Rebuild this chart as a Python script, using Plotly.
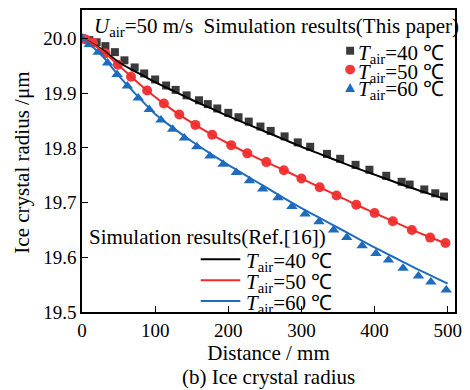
import plotly.graph_objects as go

# Reference model (Ref.[16]) curves, sampled every 25 mm
ref_x = [0, 25, 50, 75, 100, 125, 150, 175, 200, 225, 250, 275, 300, 325, 350, 375, 400, 425, 450, 475, 500]
ref_40 = [20.000, 19.982, 19.957, 19.938, 19.920, 19.904, 19.888, 19.873, 19.858, 19.844, 19.830,
          19.816, 19.802, 19.789, 19.776, 19.763, 19.751, 19.739, 19.727, 19.716, 19.705]
ref_50 = [20.000, 19.980, 19.951, 19.921, 19.893, 19.868, 19.846, 19.826, 19.808, 19.791, 19.775,
          19.760, 19.744, 19.728, 19.712, 19.696, 19.681, 19.666, 19.651, 19.637, 19.624]
ref_60 = [20.000, 19.972, 19.932, 19.896, 19.862, 19.836, 19.812, 19.790, 19.769, 19.749, 19.729,
          19.709, 19.690, 19.672, 19.654, 19.636, 19.618, 19.601, 19.584, 19.568, 19.552]

# This paper's simulation results
sim40_x = [0, 10, 20, 32, 45, 58, 72, 85, 100, 115, 128, 143, 160, 172, 185, 200, 214, 228, 244,
           258, 277, 295, 312, 335, 353, 374, 393, 416, 437, 448, 468, 483, 495]
sim40_y = [20.000, 19.997, 19.993, 19.986, 19.975, 19.960, 19.947, 19.936, 19.925, 19.914, 19.906,
           19.896, 19.887, 19.880, 19.872, 19.864, 19.856, 19.848, 19.839, 19.831, 19.821, 19.810,
           19.802, 19.789, 19.780, 19.769, 19.760, 19.749, 19.738, 19.733, 19.724, 19.717, 19.711]

sim50_x = [0, 5, 15, 32, 49, 67, 89, 112, 133, 155, 178, 204, 226, 252, 276, 300, 325, 348, 375,
           400, 425, 451, 476, 497]
sim50_y = [20.000, 19.998, 19.992, 19.973, 19.952, 19.930, 19.905, 19.881, 19.861, 19.842, 19.824,
           19.805, 19.790, 19.774, 19.759, 19.744, 19.728, 19.713, 19.696, 19.681, 19.666, 19.650,
           19.636, 19.626]

sim60_x = [0, 10, 22, 35, 48, 62, 77, 92, 108, 124, 140, 157, 175, 193, 211, 229, 247, 268, 287,
           305, 324, 344, 362, 383, 402, 419, 439, 460, 477, 498]
sim60_y = [20.000, 19.989, 19.975, 19.955, 19.934, 19.913, 19.891, 19.870, 19.851, 19.834, 19.818,
           19.802, 19.785, 19.770, 19.755, 19.740, 19.725, 19.709, 19.693, 19.679, 19.665, 19.650,
           19.636, 19.621, 19.607, 19.595, 19.580, 19.566, 19.555, 19.540]

temps = [40, 50, 60]
x_ticks = [0, 100, 200, 300, 400, 500]
y_ticks = [19.5, 19.6, 19.7, 19.8, 19.9, 20.0]

FONT = "Liberation Serif"
C_BLACK = "#000000"
C_GRAY = "#3a3a3a"
C_RED = "#f22a2a"
C_RED_M = "#f03a3a"
C_BLUE = "#1f6cbf"


def tair(temp):
    return f"<i>T</i><sub>air</sub>={temp} ℃"


fig = go.Figure()

# markers: this paper
fig.add_trace(go.Scatter(x=sim40_x, y=sim40_y, mode="markers", name=tair(40), showlegend=False,
                         marker=dict(symbol="square", size=8, color=C_GRAY)))
fig.add_trace(go.Scatter(x=sim50_x, y=sim50_y, mode="markers", name=tair(50), showlegend=False,
                         marker=dict(symbol="circle", size=10, color=C_RED_M)))
fig.add_trace(go.Scatter(x=sim60_x, y=sim60_y, mode="markers", name=tair(60), showlegend=False,
                         marker=dict(symbol="triangle-up", size=10, color=C_BLUE)))

# lines: Ref.[16]
fig.add_trace(go.Scatter(x=ref_x, y=ref_40, mode="lines", name=tair(40), showlegend=False,
                         line=dict(color=C_BLACK, width=2, shape="spline")))
fig.add_trace(go.Scatter(x=ref_x, y=ref_50, mode="lines", name=tair(50), showlegend=False,
                         line=dict(color=C_RED, width=2, shape="spline")))
fig.add_trace(go.Scatter(x=ref_x, y=ref_60, mode="lines", name=tair(60), showlegend=False,
                         line=dict(color=C_BLUE, width=2, shape="spline")))

axis_common = dict(showline=True, linecolor="black", linewidth=1.5, mirror=True,
                   ticks="inside", ticklen=6, tickwidth=1.2, tickcolor="black",
                   showgrid=False, zeroline=False,
                   tickfont=dict(family=FONT, size=19, color="black"))

fig.update_xaxes(range=[0, 510], tickvals=x_ticks, ticktext=[str(v) for v in x_ticks],
                 title=dict(text="Distance / mm", font=dict(family=FONT, size=21, color="black"),
                            standoff=0),
                 **axis_common)
fig.update_yaxes(range=[19.5, 20.052], tickvals=y_ticks, ticktext=[f"{v:.1f}" for v in y_ticks],
                 **axis_common)

txt_font = dict(family=FONT, size=21, color="black")


def paper_x(px):
    return (px - 82) / 377


def paper_y(py):
    return (312 - py) / 304


annotations = [
    dict(text="Ice crystal radius /μm", textangle=-90,
         x=paper_x(21), y=paper_y(162), xanchor="center", yanchor="middle"),
    dict(text="<i>U</i><sub>air</sub>=50 m/s\u00a0\u00a0Simulation results(This paper)",
         x=paper_x(92), y=paper_y(25), xanchor="left", yanchor="middle"),
    dict(text="Simulation results(Ref.[16])",
         x=paper_x(87), y=paper_y(237), xanchor="left", yanchor="middle"),
    dict(text="(b) Ice crystal radius",
         x=0.5, y=paper_y(377), xanchor="center", yanchor="middle"),
]

shapes = []

# key for the marker series (this paper)
mark_rows = [49, 68, 86]
for t, row in zip(temps, mark_rows):
    annotations.append(dict(text=tair(t), x=paper_x(359), y=paper_y(row + 3),
                            xanchor="left", yanchor="middle"))
sq = mark_rows[0]
shapes.append(dict(type="rect", x0=paper_x(349), x1=paper_x(357), y0=paper_y(sq + 4), y1=paper_y(sq - 4),
                   fillcolor=C_GRAY, line=dict(width=0)))
ci = mark_rows[1]
shapes.append(dict(type="circle", x0=paper_x(348), x1=paper_x(358), y0=paper_y(ci + 5), y1=paper_y(ci - 5),
                   fillcolor=C_RED_M, line=dict(width=0)))
tr = mark_rows[2]
shapes.append(dict(type="path",
                   path=(f"M {paper_x(353)} {paper_y(tr - 4.5)} L {paper_x(358)} {paper_y(tr + 4.5)} "
                         f"L {paper_x(348)} {paper_y(tr + 4.5)} Z"),
                   fillcolor=C_BLUE, line=dict(width=0)))

# key for the reference curves
line_rows = [259, 280, 301]
line_colors = [C_BLACK, C_RED, C_BLUE]
for t, row, col in zip(temps, line_rows, line_colors):
    shapes.append(dict(type="line", x0=paper_x(202), x1=paper_x(242), y0=paper_y(row), y1=paper_y(row),
                       line=dict(color=col, width=2)))
    annotations.append(dict(text=tair(t), x=paper_x(246), y=paper_y(row + 3),
                            xanchor="left", yanchor="middle"))

for a in annotations:
    a.update(xref="paper", yref="paper", showarrow=False, font=txt_font)
for s in shapes:
    s.update(xref="paper", yref="paper")

fig.update_layout(
    width=470, height=390,
    margin=dict(l=82, r=11, t=8, b=78),
    paper_bgcolor="white", plot_bgcolor="white",
    font=dict(family=FONT, color="black"),
    showlegend=False,
    annotations=annotations,
    shapes=shapes,
)

fig.write_html("out.html")
